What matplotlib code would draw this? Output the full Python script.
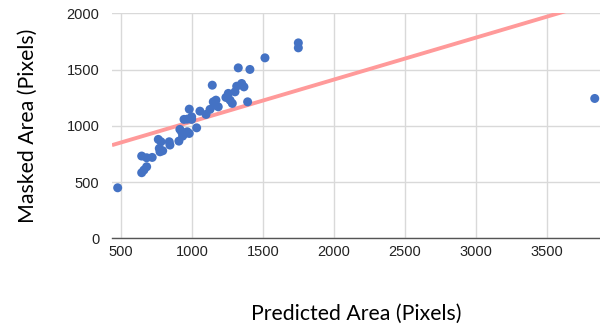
import matplotlib.pyplot as plt
import numpy as np

# Scatter data
predicted_area = [477, 646, 681, 720, 646, 662, 681, 763, 782, 770, 794, 775,
                  840, 845, 908, 915, 927, 934, 951, 967, 981, 944, 967, 998,
                  981, 998, 1033, 1056, 1099, 1127, 1143, 1150, 1169, 1185, 1162,
                  1239, 1256, 1268, 1284, 1315, 1303, 1350, 1366, 1326, 1408,
                  1392, 1514, 1749, 1749, 3836]
masked_area = [449, 731, 716, 719, 583, 607, 636, 879, 858, 799, 778, 769,
               858, 829, 864, 968, 947, 908, 932, 947, 932, 1057, 1059, 1057,
               1148, 1080, 982, 1130, 1101, 1146, 1361, 1213, 1228, 1169, 1184,
               1252, 1288, 1228, 1199, 1352, 1302, 1376, 1346, 1515, 1501,
               1213, 1604, 1737, 1693, 1243]

# Linear trendline shown on the chart
trend_slope = 0.373
trend_intercept = 665

x_ticks = [500, 1000, 1500, 2000, 2500, 3000, 3500]
y_ticks = [0, 500, 1000, 1500, 2000]

fig = plt.figure(figsize=(6, 3.24), dpi=100)
ax = fig.add_axes([112 / 600, 1 - 238.3 / 324, 1 - 112 / 600, (238.3 - 13.3) / 324])

x_min, x_max = 437, 3873
ax.set_xlim(x_min, x_max)
ax.set_ylim(0, 2000)

# Trendline
tx = np.array([x_min, x_max])
ax.plot(tx, trend_slope * tx + trend_intercept, color='#ff9a9a', linewidth=2.8,
        solid_capstyle='butt', zorder=2)

# Points
ax.scatter(predicted_area, masked_area, s=42, color='#4472c4', edgecolors='none',
           zorder=3, clip_on=False)

ax.set_xticks(x_ticks)
ax.set_yticks(y_ticks)
ax.grid(True, color='#d9d9d9', linewidth=1)
ax.set_axisbelow(True)
for side in ['top', 'right', 'left']:
    ax.spines[side].set_visible(False)
ax.spines['bottom'].set_color('#555555')
ax.spines['bottom'].set_linewidth(1)
ax.tick_params(axis='both', length=0, labelsize=10.5, labelcolor='#222222')
ax.tick_params(axis='y', pad=9)
ax.tick_params(axis='x', pad=5)
for lbl in ax.get_xticklabels() + ax.get_yticklabels():
    lbl.set_family('Liberation Sans')

ax.set_xlabel('Predicted Area (Pixels)', fontsize=15.3, family='Lato', labelpad=32)
ax.set_ylabel('Masked Area (Pixels)', fontsize=15.3, family='Lato', labelpad=21)

fig.savefig('out.png', dpi=100)
